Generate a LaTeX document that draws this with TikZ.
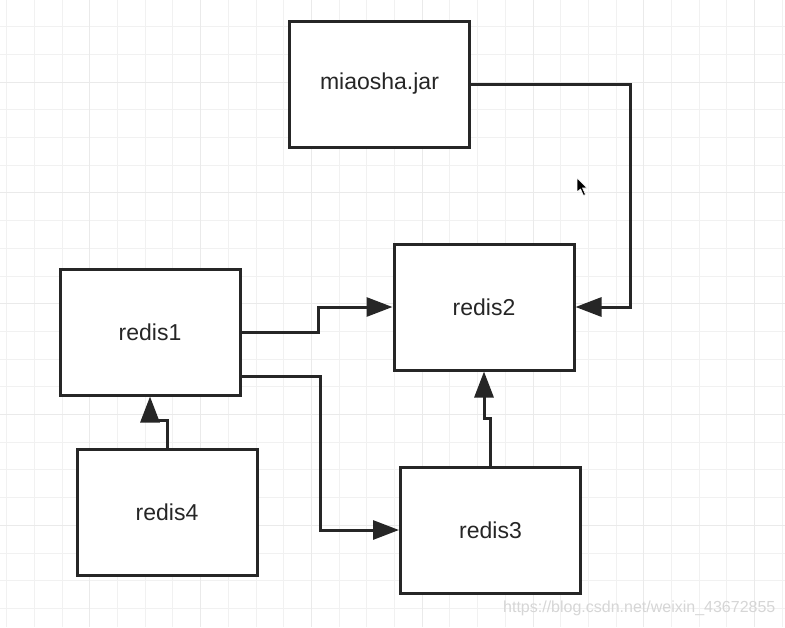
\documentclass[tikz,border=0pt]{standalone}
\usepackage{fontspec}
\setmainfont{Liberation Sans}
\usetikzlibrary{arrows.meta}

\definecolor{gridminor}{HTML}{F1F1F1}
\definecolor{gridmajor}{HTML}{EAEAEA}
\definecolor{ink}{HTML}{262626}

\tikzset{
    box/.style={draw=ink, line width=3pt, fill=white, minimum width=180pt, minimum height=126pt,
        font=\fontsize{23}{27}\selectfont, text=black!85},
    link/.style={draw=ink, line width=3pt, -{Triangle[length=26pt,width=19pt]}},
}

\begin{document}
\begin{tikzpicture}[x=1pt, y=-1pt]
    \useasboundingbox (0,0) rectangle (785,627);
    \fill[white] (0,0) rectangle (785,627);

    % 背景网格
    \foreach \i in {0,...,28}
        \draw[gridminor, line width=1pt] ({6.7+27.7*\i},0) -- ({6.7+27.7*\i},627);
    \foreach \j in {0,...,23}
        \draw[gridminor, line width=1pt] (0,{-1+27.7*\j}) -- (785,{-1+27.7*\j});
    \foreach \i in {3,7,...,27}
        \draw[gridmajor, line width=1pt] ({6.7+27.7*\i},0) -- ({6.7+27.7*\i},627);
    \foreach \j in {3,7,...,23}
        \draw[gridmajor, line width=1pt] (0,{-1+27.7*\j}) -- (785,{-1+27.7*\j});

    % 方块
    \node[box] (jar)    at (379.5,84) {miaosha.jar};
    \node[box] (redis2) at (484,307)  {redis2};
    \node[box] (redis1) at (150,332)  {redis1};
    \node[box] (redis4) at (167,512)  {redis4};
    \node[box] (redis3) at (490.5,530) {redis3};

    % 连线
    \draw[link] (jar.east) -- ++(159,0) |- (redis2.east);
    \draw[link] (redis1.east) -- ++(77,0) |- (redis2.west);
    \draw[link] ([yshift=-44pt]redis1.east) -- ++(79,0) |- (redis3.west);
    \draw[link] (redis3.north) |- ++(-6.5,-47) -- (redis2.south);
    \draw[link] (redis4.north) |- ++(-17,-27) -- (redis1.south);

    % 鼠标指针
    \fill[black, draw=white, line width=0.6pt] (577,178) -- (577,192) -- (580.5,189) -- (583.5,195.5)
        -- (585.5,194.5) -- (582.5,188) -- (587,188) -- cycle;

    % 水印
    \node[anchor=west, text=black!16, font=\fontsize{16}{18}\selectfont, inner sep=0pt]
        (mark) at (503,608) {https://blog.csdn.net/weixin\_43672855};
\end{tikzpicture}
\end{document}
